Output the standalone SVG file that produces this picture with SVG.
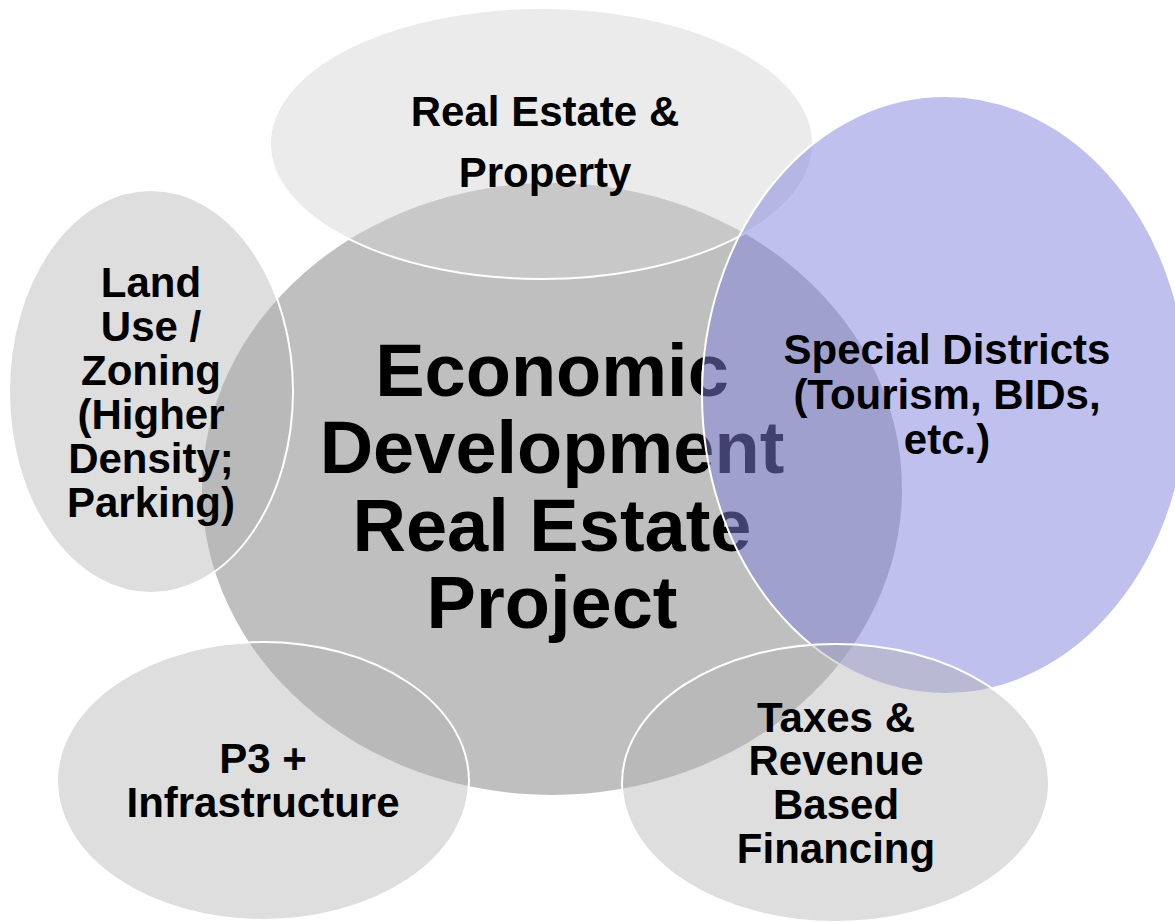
<svg xmlns="http://www.w3.org/2000/svg" width="1175" height="923" viewBox="0 0 1175 923">
  <style>
    .lbl { font-family: "Liberation Sans", Arial, sans-serif; font-weight: bold; fill: #000; text-anchor: middle; }
    .sat { font-size: 42px; }
    .core { font-size: 74px; }
    .ring { stroke: #ffffff; stroke-width: 2; }
    .gray { fill: #b1b1b1; fill-opacity: 0.42; }
    .light { fill: #d3d3d3; fill-opacity: 0.45; }
    .violet { fill: #8181dd; fill-opacity: 0.5; }
  </style>
  <rect width="1175" height="923" fill="#ffffff"/>

  <!-- central circle -->
  <g id="core">
    <ellipse cx="552" cy="489" rx="350" ry="306" fill="#bfbfbf"/>
    <text class="lbl core" x="552" y="396">Economic</text>
    <text class="lbl core" x="552" y="473">Development</text>
    <text class="lbl core" x="552" y="551">Real Estate</text>
    <text class="lbl core" x="552" y="628">Project</text>
  </g>

  <!-- satellites, drawn in stacking order -->
  <g id="real-estate">
    <ellipse class="light ring" cx="541.5" cy="143.5" rx="271.5" ry="135.5"/>
    <text class="lbl sat" x="545" y="126">Real Estate &amp;</text>
    <text class="lbl sat" x="545" y="187">Property</text>
  </g>

  <g id="special-districts">
    <ellipse class="violet ring" cx="945" cy="395" rx="243" ry="299"/>
    <text class="lbl sat" x="947" y="364">Special Districts</text>
    <text class="lbl sat" x="947" y="409">(Tourism, BIDs,</text>
    <text class="lbl sat" x="947" y="454">etc.)</text>
  </g>

  <g id="taxes">
    <ellipse class="gray ring" cx="835.5" cy="783" rx="213.5" ry="139"/>
    <text class="lbl sat" x="836" y="732">Taxes &amp;</text>
    <text class="lbl sat" x="836" y="775">Revenue</text>
    <text class="lbl sat" x="836" y="819">Based</text>
    <text class="lbl sat" x="836" y="863">Financing</text>
  </g>

  <g id="p3">
    <ellipse class="gray ring" cx="263" cy="781" rx="206" ry="139"/>
    <text class="lbl sat" x="263" y="773">P3 +</text>
    <text class="lbl sat" x="263" y="817">Infrastructure</text>
  </g>

  <g id="land-use">
    <ellipse class="gray ring" cx="151" cy="391.5" rx="142" ry="201.5"/>
    <text class="lbl sat" x="151" y="297">Land</text>
    <text class="lbl sat" x="151" y="341">Use /</text>
    <text class="lbl sat" x="151" y="385">Zoning</text>
    <text class="lbl sat" x="151" y="429">(Higher</text>
    <text class="lbl sat" x="151" y="473">Density;</text>
    <text class="lbl sat" x="151" y="517">Parking)</text>
  </g>

  <!-- no connectors in this diagram -->
  <g id="connectors"/>
</svg>
